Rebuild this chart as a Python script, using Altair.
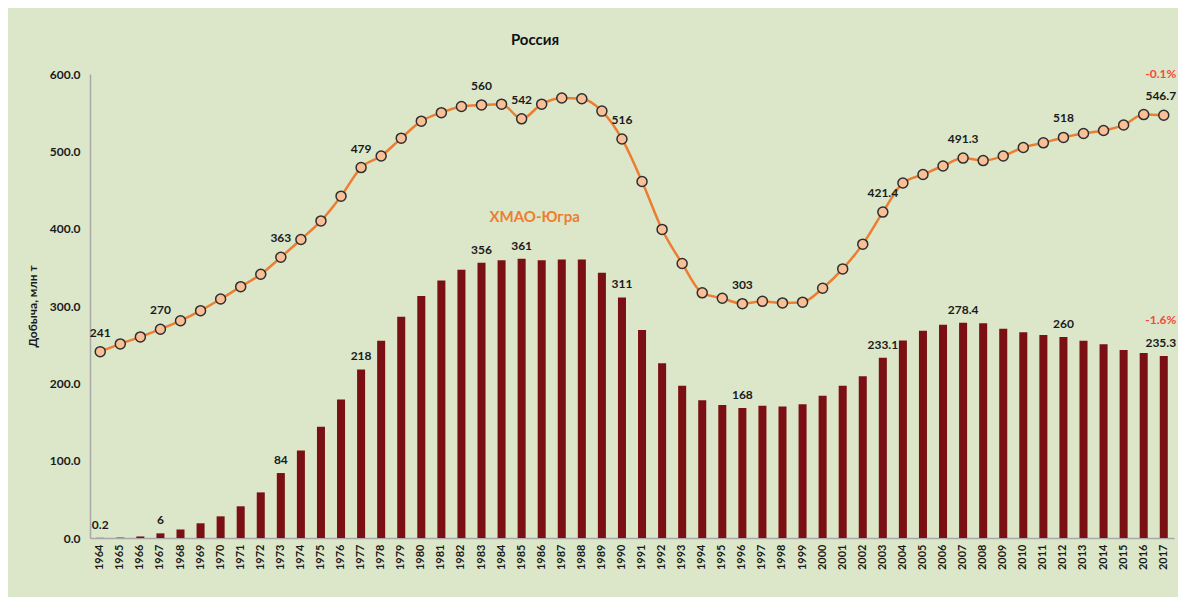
import altair as alt
import pandas as pd

years = [str(y) for y in range(1964, 2018)]

russia = [241, 251, 260, 270, 281, 294, 309, 325, 341, 363, 386, 410, 442, 479,
          494, 517, 539, 550, 558, 560, 561, 542, 561, 569, 568, 552, 516, 461,
          399, 355, 317, 310, 303, 306, 304, 305, 323, 348, 380, 421.4, 459, 470,
          481, 491.3, 488, 494, 505, 511, 518, 523, 527, 534, 547.5, 546.7]

khmao = [0.2, 0.5, 2, 6, 11, 19, 28, 41, 59, 84, 113, 144, 179, 218, 255, 286,
         313, 333, 347, 356, 359, 361, 359, 360, 360, 343, 311, 269, 226, 197,
         178, 172, 168, 171, 170, 173, 184, 197, 209, 233.1, 255.5, 268, 275.6,
         278.4, 277.6, 270.5, 266, 262.5, 260, 255.1, 250.4, 243.1, 239.2, 235.3]

russia_label_years = ["1964", "1967", "1973", "1977", "1983", "1985", "1990",
                      "1996", "2003", "2007", "2012", "2017"]
russia_label_texts = ["241", "270", "363", "479", "560", "542", "516", "303",
                      "421.4", "491.3", "518", "546.7"]

khmao_label_years = ["1964", "1967", "1973", "1977", "1983", "1985", "1990",
                     "1996", "2003", "2007", "2012", "2017"]
khmao_label_texts = ["0.2", "6", "84", "218", "356", "361", "311", "168",
                     "233.1", "278.4", "260", "235.3"]

pct_years = ["2017", "2017"]
pct_values = [600, 281.5]
pct_texts = ["-0.1%", "-1.6%"]

FONT = "Lato"

df = pd.DataFrame({"year": years, "russia": russia, "khmao": khmao})
df_rl = pd.DataFrame({"year": russia_label_years, "text": russia_label_texts})
df_rl = df_rl.merge(df[["year", "russia"]], on="year")
df_kl = pd.DataFrame({"year": khmao_label_years, "text": khmao_label_texts})
df_kl = df_kl.merge(df[["year", "khmao"]], on="year")
df_pct = pd.DataFrame({"year": pct_years, "v": pct_values, "text": pct_texts})
df_name = pd.DataFrame({"year": ["1985"], "v": [415], "text": ["ХМАО-Югра"]})

last = years[-1]

xenc = alt.X(
    "year:O",
    sort=years,
    scale=alt.Scale(domain=years, paddingInner=0.6, paddingOuter=0.31),
    axis=alt.Axis(
        title=None, labelAngle=270, ticks=False, labelPadding=6,
        labelFontWeight="bold", labelFontSize=11, labelColor="#1a1a1a",
        labelFont=FONT, domainColor="#a8a8a8", domainWidth=1.5,
    ),
)
xs = alt.X("year:O", sort=years)
yscale = alt.Scale(domain=[0, 600], nice=False)

bars = alt.Chart(df).mark_bar(color="#7a1014").encode(
    x=xenc,
    y=alt.Y(
        "khmao:Q", scale=yscale,
        axis=alt.Axis(
            title="Добыча, млн т", values=[0, 100, 200, 300, 400, 500, 600],
            format=".1f", grid=False, ticks=False, labelPadding=10,
            labelFontWeight="bold", labelFontSize=12, labelColor="#1a1a1a",
            labelFont=FONT, titleFont=FONT, titleFontWeight="bold",
            titleFontSize=12, titleColor="#1a1a1a", titlePadding=10,
            domainColor="#a8a8a8", domainWidth=1.5,
        ),
    ),
)

line = alt.Chart(df).mark_line(
    color="#ed7d31", strokeWidth=2.5, interpolate="monotone"
).encode(x=xs, y=alt.Y("russia:Q", scale=yscale))

points = alt.Chart(df).mark_point(
    shape="circle", filled=True, fill="#f9bf97", stroke="#2e2e2e",
    strokeWidth=1.5, size=100, opacity=1,
).encode(x=xs, y=alt.Y("russia:Q", scale=yscale))

txt = dict(fontWeight="bold", fontSize=12, font=FONT, color="#1a1a1a")

rlabels = alt.Chart(df_rl[df_rl.year != last]).mark_text(dy=-19, **txt).encode(
    x=xs, y=alt.Y("russia:Q", scale=yscale), text="text:N")
rlabels_end = alt.Chart(df_rl[df_rl.year == last]).mark_text(
    dy=-19, dx=-3, **txt).encode(
    x=xs, y=alt.Y("russia:Q", scale=yscale), text="text:N")

klabels = alt.Chart(df_kl[df_kl.year != last]).mark_text(dy=-13, **txt).encode(
    x=xs, y=alt.Y("khmao:Q", scale=yscale), text="text:N")
klabels_end = alt.Chart(df_kl[df_kl.year == last]).mark_text(
    dy=-13, dx=-3, **txt).encode(
    x=xs, y=alt.Y("khmao:Q", scale=yscale), text="text:N")

pct = alt.Chart(df_pct).mark_text(
    dx=-3, fontWeight="bold", fontSize=12, font=FONT, color="#f24a3c"
).encode(x=xs, y=alt.Y("v:Q", scale=yscale), text="text:N")

name = alt.Chart(df_name).mark_text(
    dx=13, fontWeight="bold", fontSize=15, font=FONT, color="#ee7d31"
).encode(x=xs, y=alt.Y("v:Q", scale=yscale), text="text:N")

chart = alt.layer(
    bars, line, points, rlabels, rlabels_end, klabels, klabels_end, pct, name
).properties(
    width=1084,
    height=464,
    title=alt.TitleParams(
        "Россия", fontSize=15, fontWeight="bold", font=FONT, color="#111111",
        anchor="middle", dx=-97, offset=20,
    ),
    background="#dce7ca",
    autosize=alt.AutoSizeParams(type="none"),
    padding={"left": 82, "top": 66, "right": 4, "bottom": 59},
).configure_view(stroke=None)

chart.save("out.html", embed_options={"renderer": "svg", "actions": False})
